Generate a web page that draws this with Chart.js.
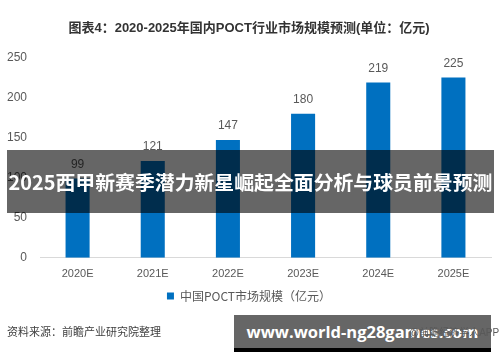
<!DOCTYPE html>
<html>
<head>
<meta charset="utf-8">
<script src="https://cdn.jsdelivr.net/npm/chart.js@4"></script>
<style>
  body { margin: 0; background: #fff; }
  #wrap { position: relative; width: 500px; height: 362px; overflow: hidden; }
  .txt { position: absolute; font-family: "Liberation Sans", "Noto Sans CJK SC", sans-serif; white-space: nowrap; }
  .fit span { display: inline-block; }
</style>
</head>
<body>
<div id="wrap">
  <canvas id="myChart" width="500" height="362"></canvas>
  <div class="txt" style="left:7px; top:323px; font-size:11px; color:#404040;">资料来源：前瞻产业研究院整理</div>
  <div class="txt fit" data-w="484" style="left:7px; top:150px; width:487px; height:63px; background:rgba(0,0,0,0.6); color:#fff; font-weight:bold; font-size:22px; line-height:63px; text-align:center; font-family:'Noto Sans CJK SC', sans-serif;"><span>2025西甲新赛季潜力新星崛起全面分析与球员前景预测</span></div>
  <div class="txt fit" data-w="232" style="left:234px; top:315px; width:257px; height:33px; background:#666; border-bottom:4px solid #000; color:#fff; font-weight:bold; font-size:18px; line-height:33px; text-align:center; font-family:'Open Sans', sans-serif;"><span>www.world-ng28games.com</span></div>
  <div class="txt" style="left:409px; top:324px; font-size:10px; color:#595959;">@前瞻经济学人APP</div>
</div>
<script>
const labels = ['2020E', '2021E', '2022E', '2023E', '2024E', '2025E'];
const values = [99, 121, 147, 180, 219, 225];
const yTicks = [0, 50, 100, 150, 200, 250];

// shrink overlay text so it fits its band
document.querySelectorAll('.fit').forEach(el => {
  const span = el.querySelector('span');
  let size = parseFloat(el.style.fontSize);
  const want = parseFloat(el.dataset.w);
  const w = span.getBoundingClientRect().width;
  size = size * want / w;
  el.style.fontSize = size + 'px';
});

const barLabels = {
  id: 'barLabels',
  afterDatasetsDraw(chart) {
    const ctx = chart.ctx;
    const meta = chart.getDatasetMeta(0);
    ctx.save();
    ctx.font = '12px "Liberation Sans", sans-serif';
    ctx.fillStyle = '#595959';
    ctx.textAlign = 'center';
    ctx.textBaseline = 'bottom';
    meta.data.forEach((bar, i) => {
      ctx.fillText(values[i], bar.x, bar.y - 8);
    });
    ctx.restore();
  }
};

const config = {
  type: 'bar',
  data: {
    labels: labels,
    datasets: [{
      label: '中国POCT市场规模（亿元）',
      data: values,
      backgroundColor: '#0070C0',
      categoryPercentage: 1,
      barPercentage: 0.32
    }]
  },
  options: {
    responsive: false,
    animation: false,
    layout: { padding: { left: 7, right: 9, top: 0, bottom: 50 } },
    plugins: {
      title: {
        display: true,
        text: '图表4：2020-2025年国内POCT行业市场规模预测(单位：亿元)',
        color: '#333',
        font: { family: '"Liberation Sans", "Noto Sans CJK SC"', size: 13, weight: 'bold' },
        padding: { top: 21, bottom: 21 }
      },
      legend: {
        position: 'bottom',
        labels: {
          color: '#595959',
          boxWidth: 7,
          boxHeight: 7,
          padding: 5,
          font: { family: '"Noto Sans CJK SC", "Liberation Sans"', size: 12 }
        }
      },
      tooltip: { enabled: false }
    },
    scales: {
      x: {
        afterFit(axis) { axis.height += 2; },
        grid: { display: false },
        border: { color: '#d9d9d9' },
        ticks: { color: '#595959', padding: 2, font: { family: '"Liberation Sans"', size: 11 } }
      },
      y: {
        min: 0,
        max: 250,
        afterBuildTicks(axis) { axis.ticks = yTicks.map(v => ({ value: v })); },
        afterFit(axis) { axis.width = 33; },
        grid: { display: false },
        border: { display: false },
        ticks: { color: '#595959', padding: 5, font: { family: '"Liberation Sans"', size: 12 } }
      }
    }
  },
  plugins: [barLabels]
};

const myChart = new Chart(document.getElementById('myChart'), config);
</script>
</body>
</html>
